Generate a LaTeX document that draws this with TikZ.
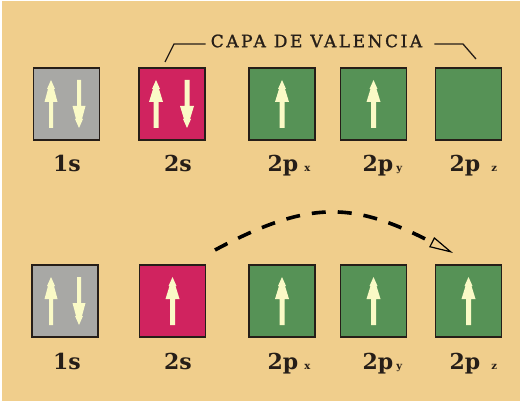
\documentclass[tikz,border=0pt]{standalone}
\usepackage{fontspec}
\setmainfont{DejaVu Serif}
\newfontfamily\capfont[LetterSpace=15,FakeBold=1.2]{DejaVu Serif}
\usetikzlibrary{arrows.meta}
\definecolor{bgc}{RGB}{240,206,140}
\definecolor{grayc}{RGB}{168,168,165}
\definecolor{magc}{RGB}{208,35,95}
\definecolor{greenc}{RGB}{86,146,86}
\definecolor{spinc}{RGB}{250,250,198}
\definecolor{edgec}{RGB}{38,30,24}
\begin{document}
\begin{tikzpicture}[x=1pt,y=-1pt,
  orb/.style={draw=edgec, line width=1.6pt, minimum width=66pt, minimum height=72pt, inner sep=0pt, outer sep=0pt},
  lab/.style={font=\fontsize{22}{22}\selectfont\bfseries, anchor=base, inner sep=0pt, text=edgec},
  upspin/.pic={\fill[spinc] (0,0) -- (-4,9) -- (-3,9) -- (-7,22) -- (-2.5,22) -- (-2.5,48) -- (2.5,48) -- (2.5,22) -- (7,22) -- (3,9) -- (4,9) -- cycle;},
  upthin/.pic={\fill[spinc] (0,0) -- (-4,9) -- (-3,9) -- (-6.5,22) -- (-2,22) -- (-2,48) -- (2,48) -- (2,22) -- (6.5,22) -- (3,9) -- (4,9) -- cycle;},
  bracket/.style={draw=edgec, line width=1.3pt},
  jump/.style={draw=black, line width=3.6pt, dash pattern=on 14pt off 12pt,
    -{Triangle[open, length=24pt, width=11pt, line width=1.2pt]}}
]
\fill[white] (0,0) rectangle (520,401);
\fill[bgc] (2,1) rectangle (520,401);
\useasboundingbox (0,0) rectangle (520,401);

% top row
\node[orb, fill=grayc]  (t1s)  at (66.5,104) {};
\node[orb, fill=magc]   (t2s)  at (172,104) {};
\node[orb, fill=greenc] (t2px) at (282,104) {};
\node[orb, fill=greenc] (t2py) at (373.5,104) {};
\node[orb, fill=greenc] (t2pz) at (468.5,104) {};
\pic at (51,80) {upthin};
\pic[yscale=-1] at (79,128) {upthin};
\pic at (156,80) {upspin};
\pic[yscale=-1] at (187,128) {upspin};
\pic at (282,80) {upspin};
\pic at (373.5,80) {upspin};

% bottom row
\node[orb, fill=grayc]  (b1s)  at (65,301) {};
\node[orb, fill=magc]   (b2s)  at (172.5,301) {};
\node[orb, fill=greenc] (b2px) at (282,301) {};
\node[orb, fill=greenc] (b2py) at (373.5,301) {};
\node[orb, fill=greenc] (b2pz) at (468.5,301) {};
\pic at (51,277) {upthin};
\pic[yscale=-1] at (79,325) {upthin};
\pic at (172.5,277) {upspin};
\pic at (282,277) {upspin};
\pic at (373.5,277) {upspin};
\pic at (468.5,277) {upspin};

% labels top
\node[lab] (lt1s) at (67,172) {1s};
\node[lab] (lt2s) at (178,172) {2s};
\node[lab] (lt2px) at (283,172) {2p\rlap{\hspace{6pt}{\fontsize{10}{10}\selectfont x}}};
\node[lab] (lt2py) at (378,172) {2p\rlap{\hspace{3pt}{\fontsize{10}{10}\selectfont y}}};
\node[lab] (lt2pz) at (465,172) {2p\rlap{\hspace{11pt}{\fontsize{10}{10}\selectfont z}}};
% labels bottom
\node[lab] (lb1s) at (67,369) {1s};
\node[lab] (lb2s) at (178,369) {2s};
\node[lab] (lb2px) at (283,369) {2p\rlap{\hspace{6pt}{\fontsize{10}{10}\selectfont x}}};
\node[lab] (lb2py) at (378,369) {2p\rlap{\hspace{3pt}{\fontsize{10}{10}\selectfont y}}};
\node[lab] (lb2pz) at (465,369) {2p\rlap{\hspace{11pt}{\fontsize{10}{10}\selectfont z}}};

% valence shell bracket
\node[inner sep=0pt, text=edgec, font=\capfont\fontsize{17}{17}\selectfont] (cap) at (316.5,41) {CAPA DE VALENCIA};
\coordinate (bl) at (165,62);
\coordinate (br) at (476,59);
\draw[bracket] (bl) -- (174,44) -- ([xshift=-5pt]cap.west |- 0,44);
\draw[bracket] ([xshift=12pt]cap.east |- 0,44) -- (463,44) -- (br);

% promotion arrow
\coordinate (js) at (215,250);
\coordinate (je) at (453,253);
\draw[jump] (js) .. controls (312,198) and (355,203) .. (je);
\end{tikzpicture}
\end{document}
